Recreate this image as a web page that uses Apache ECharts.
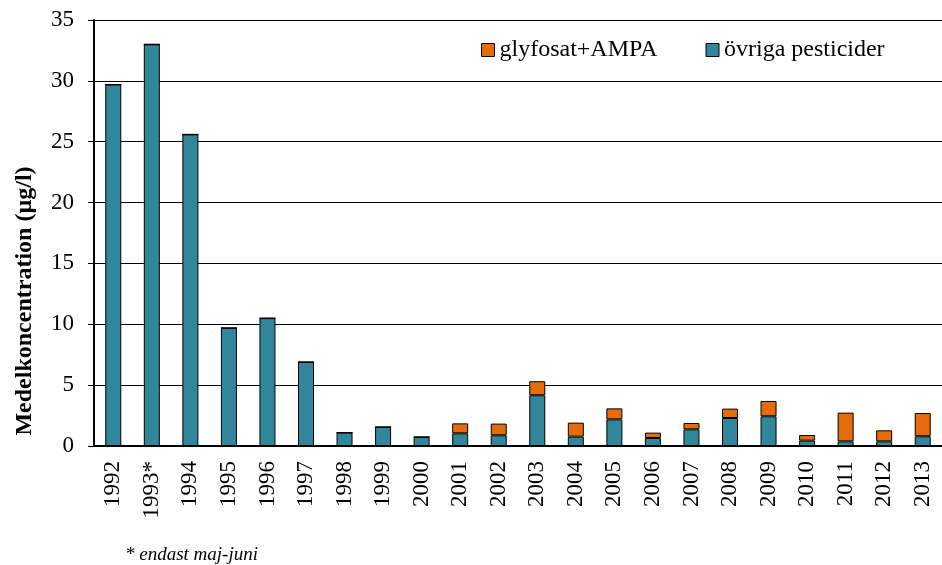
<!DOCTYPE html>
<html>
<head>
<meta charset="utf-8">
<title>Medelkoncentration</title>
<script src="https://cdn.jsdelivr.net/npm/echarts@6/dist/echarts.min.js"></script>
<style>
    html,body{margin:0;padding:0;background:#fff;}
    #chart{width:942px;height:565px;}
</style>
</head>
<body>
<div id="chart"></div>
<script>
// data
let years = ['1992','1993*','1994','1995','1996','1997','1998','1999','2000','2001','2002',
    '2003','2004','2005','2006','2007','2008','2009','2010','2011','2012','2013'];
let ovriga = [29.7,33.0,25.6,9.7,10.5,6.9,1.1,1.56,0.74,1.04,0.88,
    4.17,0.77,2.19,0.66,1.37,2.3,2.44,0.44,0.38,0.38,0.8];
let glyfosat = [0,0,0,0,0,0,0,0,0,0.82,0.96,
    1.15,1.15,0.9,0.44,0.52,0.77,1.26,0.46,2.36,0.91,1.91];
let yTicks = {min:0, max:35, interval:5};

;(function(){
    let font = 'Liberation Serif';
    let chart = echarts.init(document.getElementById('chart'));
    let bar = function(name,data,color){
        return {
            name: name,
            type: 'bar',
            stack: 'total',
            data: data,
            barWidth: 16,
            itemStyle: {color: color, borderColor: '#000', borderWidth: 1},
            emphasis: {disabled: true}
        }
    };
    chart.setOption({
        animation: false,
        textStyle: {fontFamily: font, color: '#000'},
        grid: {left: 94, width: 854, top: 20, bottom: 119},
        legend: {
            data: ['glyfosat+AMPA','övriga pesticider'],
            icon: 'rect',
            left: 476,
            top: 33,
            itemWidth: 13,
            itemHeight: 13,
            itemGap: 48,
            textStyle: {fontFamily: font, fontSize: 24, color: '#000'},
            itemStyle: {borderColor: '#000', borderWidth: 1}
        },
        xAxis: {
            type: 'category',
            data: years,
            axisLine: {lineStyle: {color: '#000', width: 2}},
            axisTick: {interval: 0, length: 7, lineStyle: {color: '#000', width: 2}},
            axisLabel: {interval: 0, rotate: 90, margin: 15, fontFamily: font, fontSize: 23, color: '#000'}
        },
        yAxis: {
            type: 'value',
            min: yTicks.min,
            max: yTicks.max,
            interval: yTicks.interval,
            axisLine: {show: true, lineStyle: {color: '#000', width: 2}},
            axisTick: {show: true, length: 6, lineStyle: {color: '#000', width: 1}},
            axisLabel: {margin: 20, fontFamily: font, fontSize: 23, color: '#000'},
            splitLine: {lineStyle: {color: '#000', width: 1}}
        },
        graphic: [{
            type: 'text',
            x: 25,
            y: 301,
            rotation: Math.PI / 2,
            style: {
                text: 'Medelkoncentration (µg/l)',
                font: 'bold 24px "Liberation Serif"',
                fill: '#000',
                align: 'center',
                verticalAlign: 'middle'
            }
        },{
            type: 'text',
            left: 125,
            top: 545,
            style: {text: '* endast maj-juni', font: 'italic 19px "Liberation Serif"', fill: '#000'}
        }],
        series: [
            bar('övriga pesticider', ovriga, '#31869B'),
            bar('glyfosat+AMPA', glyfosat, '#E46C0A')
        ]
    });
})();
</script>
</body>
</html>
